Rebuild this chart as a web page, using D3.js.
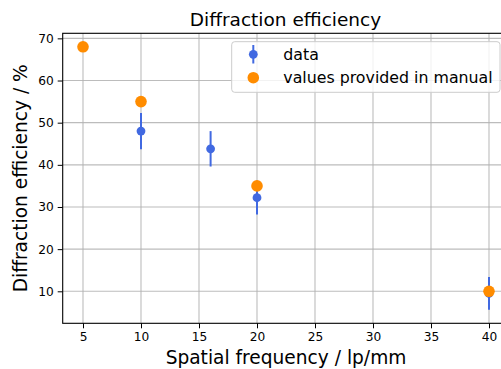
<!DOCTYPE html>
<html>
<head>
<meta charset="utf-8">
<script src="https://cdn.jsdelivr.net/npm/d3@7/dist/d3.min.js"></script>
<style>
  html, body { margin: 0; padding: 0; background: #fff; }
  svg { display: block; font-family: "DejaVu Sans", sans-serif; }
</style>
</head>
<body>
<svg id="chart" width="501" height="369"></svg>
<script>
// Measured diffraction efficiency with uncertainty
const measuredFreq = [10, 16, 20, 40];
const measuredEff = [48.0, 43.8, 32.2, 9.5];
const measuredErr = [4.3, 4.2, 4.0, 3.9];

// Values quoted in the manual
const manualFreq = [5, 10, 20, 40];
const manualEff = [68, 55, 35, 10];

const xTicks = [5, 10, 15, 20, 25, 30, 35, 40];
const yTicks = [10, 20, 30, 40, 50, 60, 70];

const legendLabels = ["data", "values provided in manual"];

const blue = "#4169e1";
const orange = "#ff8c00";

const svg = d3.select("#chart");
const plot = { left: 62.7, right: 509.3, top: 33.3, bottom: 323.3 };

const x = d3.scaleLinear().domain([3.25, 41.75]).range([plot.left, plot.right]);
const y = d3.scaleLinear().domain([2.41, 71.2]).range([plot.bottom, plot.top]);

// grid
const grid = svg.append("g");
grid.selectAll("line.gx").data(xTicks).join("line")
  .attr("x1", d => x(d)).attr("x2", d => x(d))
  .attr("y1", plot.top).attr("y2", plot.bottom)
  .attr("stroke", "#b0b0b0").attr("stroke-width", 1.1).attr("stroke-opacity", 0.85);
grid.selectAll("line.gy").data(yTicks).join("line")
  .attr("y1", d => y(d)).attr("y2", d => y(d))
  .attr("x1", plot.left).attr("x2", plot.right)
  .attr("stroke", "#b0b0b0").attr("stroke-width", 1.1).attr("stroke-opacity", 0.85);

// axes
const xAxis = d3.axisBottom(x).tickValues(xTicks).tickSize(5).tickPadding(4);
const yAxis = d3.axisLeft(y).tickValues(yTicks).tickSize(5).tickPadding(4);

const gx = svg.append("g").attr("transform", `translate(0,${plot.bottom})`).call(xAxis);
const gy = svg.append("g").attr("transform", `translate(${plot.left},0)`).call(yAxis);
[gx, gy].forEach(g => {
  g.select(".domain").remove();
  g.selectAll(".tick line").attr("stroke", "#000").attr("stroke-width", 1);
  g.selectAll(".tick text").attr("font-family", "DejaVu Sans").attr("font-size", 12.2).attr("fill", "#000");
});

// spines
svg.append("rect")
  .attr("x", plot.left).attr("y", plot.top)
  .attr("width", plot.right - plot.left).attr("height", plot.bottom - plot.top)
  .attr("fill", "none").attr("stroke", "#000").attr("stroke-width", 1.1);

// measured points with error bars
const meas = measuredFreq.map((f, i) => ({ f, v: measuredEff[i], e: measuredErr[i] }));
svg.append("g").selectAll("line").data(meas).join("line")
  .attr("x1", d => x(d.f)).attr("x2", d => x(d.f))
  .attr("y1", d => y(d.v - d.e)).attr("y2", d => y(d.v + d.e))
  .attr("stroke", blue).attr("stroke-width", 2);
svg.append("g").selectAll("circle").data(meas).join("circle")
  .attr("cx", d => x(d.f)).attr("cy", d => y(d.v)).attr("r", 4.4)
  .attr("fill", blue);

// manual values
const man = manualFreq.map((f, i) => ({ f, v: manualEff[i] }));
svg.append("g").selectAll("circle").data(man).join("circle")
  .attr("cx", d => x(d.f)).attr("cy", d => y(d.v)).attr("r", 5.8)
  .attr("fill", orange);

// title and axis labels
svg.append("text").attr("x", 285.5).attr("y", 25.5)
  .attr("text-anchor", "middle").attr("font-size", 18.5).attr("fill", "#000")
  .text("Diffraction efficiency");
svg.append("text").attr("x", 286).attr("y", 364)
  .attr("text-anchor", "middle").attr("font-size", 18.6).attr("fill", "#000")
  .text("Spatial frequency / lp/mm");
svg.append("text")
  .attr("transform", `translate(26.5,${(plot.top + plot.bottom) / 2}) rotate(-90)`)
  .attr("text-anchor", "middle").attr("font-size", 18.6).attr("fill", "#000")
  .text("Diffraction efficiency / %");

// legend
const lg = svg.append("g");
lg.append("rect").attr("x", 231.7).attr("y", 41.7).attr("width", 268.3).attr("height", 50.6)
  .attr("rx", 3).attr("fill", "#fff").attr("fill-opacity", 0.8)
  .attr("stroke", "#cccccc").attr("stroke-width", 1);
const rows = [54.3, 77.7];
lg.append("line").attr("x1", 253.3).attr("x2", 253.3).attr("y1", 45).attr("y2", 63.5)
  .attr("stroke", blue).attr("stroke-width", 2);
lg.append("circle").attr("cx", 253.3).attr("cy", rows[0]).attr("r", 4.4).attr("fill", blue);
lg.append("circle").attr("cx", 253.3).attr("cy", rows[1]).attr("r", 5.8).attr("fill", orange);
lg.selectAll("text").data(legendLabels).join("text")
  .attr("x", 283.3).attr("y", (d, i) => rows[i] + 5.6)
  .attr("font-size", 15.8).attr("fill", "#000")
  .text(d => d);
</script>
</body>
</html>
